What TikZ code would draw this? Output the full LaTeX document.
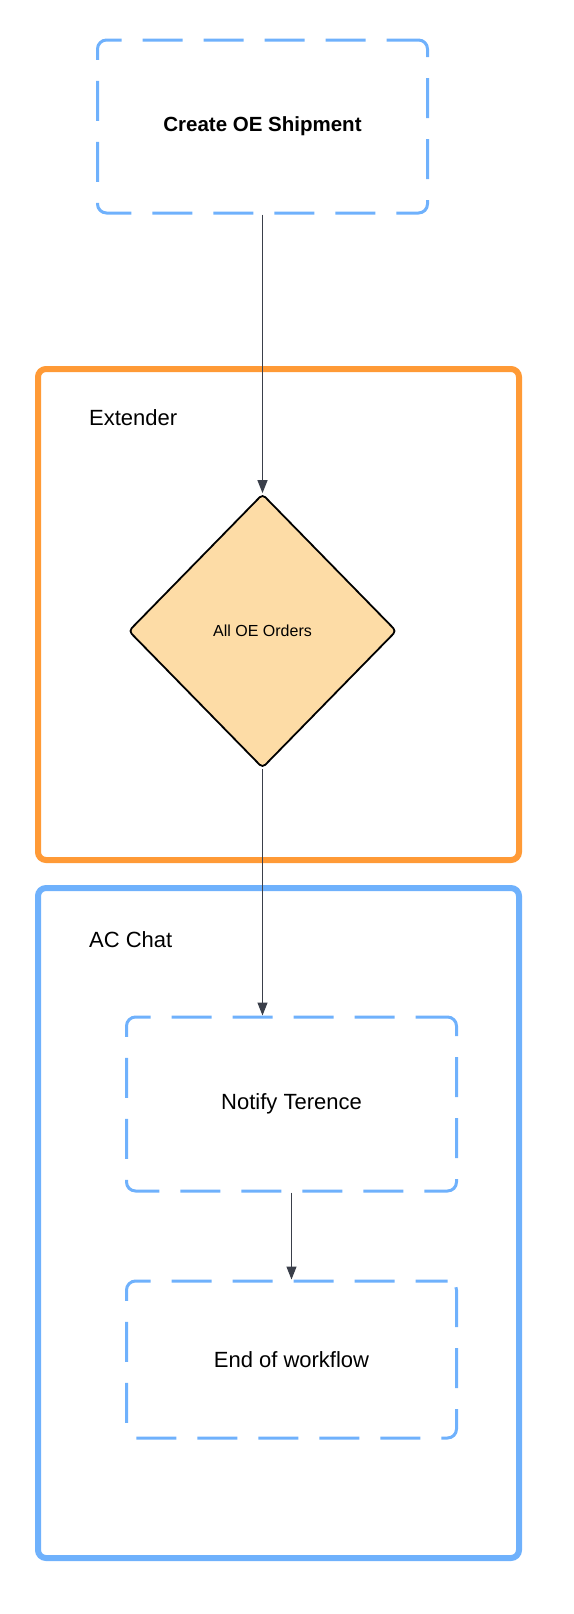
\documentclass[tikz,border=0pt]{standalone}
\usepackage{fontspec}
\setmainfont{Liberation Sans}
\usetikzlibrary{arrows.meta,shapes.geometric}
\definecolor{orangeC}{HTML}{FF9A36}
\definecolor{blueC}{HTML}{6FB1FC}
\definecolor{peach}{HTML}{FDDCA6}
\definecolor{arrowC}{HTML}{3A3F4A}
\tikzset{
  lane/.style={draw, line width=6pt, rounded corners=8pt},
  dashbox/.style={draw=blueC, line width=3pt, rounded corners=9pt,
    dash pattern=on 40pt off 21pt, dash phase=8pt, minimum width=330pt, inner sep=0pt},
  lanelabel/.style={anchor=west, font=\fontsize{22}{26}\selectfont, inner sep=0pt},
  conn/.style={draw=arrowC, line width=1.2pt, -{Triangle[length=13pt,width=10pt]}},
}
\begin{document}
\begin{tikzpicture}[x=1pt,y=-1pt]
\useasboundingbox (0,0) rectangle (573,1614);
% lanes
\draw[lane, draw=orangeC] (38,369) rectangle (519,860);
\draw[lane, draw=blueC] (38,888) rectangle (519,1558);
\node[lanelabel] (ext) at (89,418) {Extender};
\node[lanelabel] (acc) at (89,940) {AC Chat};
% nodes
\node[dashbox, minimum height=173pt, font=\bfseries\fontsize{20.5}{24}\selectfont] (create) at (262.5,126.5) {Create OE Shipment};
\node[diamond, draw=black, fill=peach, line width=1.8pt, rounded corners=4pt,
      minimum width=268pt, minimum height=274pt, inner sep=0pt,
      font=\fontsize{16}{19}\selectfont] (dia) at (262.5,631) {All OE Orders};
\node[dashbox, minimum height=174pt, font=\fontsize{22}{26}\selectfont] (notify) at (291.5,1104) {Notify Terence};
\node[dashbox, minimum height=157pt, font=\fontsize{22}{26}\selectfont] (end) at (291.5,1359.5) {End of workflow};
% connectors
\draw[conn] (create.south) -- (dia.north);
\draw[conn] (dia.south) -- (dia.south |- notify.north);
\draw[conn] (notify.south) -- (end.north);
\end{tikzpicture}
\end{document}
